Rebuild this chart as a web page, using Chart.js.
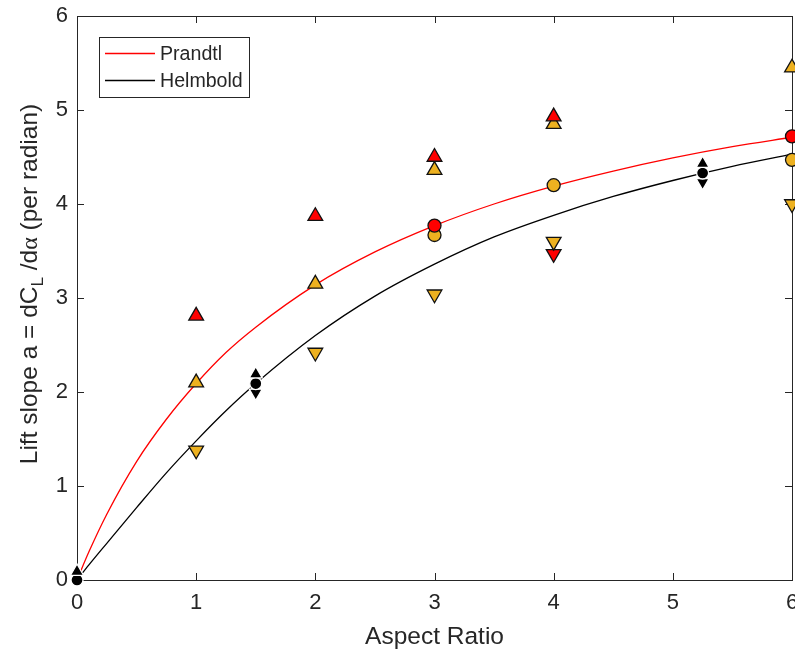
<!DOCTYPE html>
<html>
<head>
<meta charset="utf-8">
<script src="https://cdn.jsdelivr.net/npm/chart.js@4.4.0/dist/chart.umd.min.js"></script>
<style>
  html, body { margin: 0; padding: 0; background: #fff; }
</style>
</head>
<body>
<canvas id="chart" width="795" height="652"></canvas>
<script>
// curves
const curveX   = [0, 0.1, 0.25, 0.5, 0.75, 1, 1.25, 1.5, 2, 2.5, 3, 3.5, 4, 4.5, 5, 5.5, 6];
const prandtl  = [0, 0.30, 0.70, 1.26, 1.71, 2.09, 2.42, 2.69, 3.14, 3.49, 3.77, 4.00, 4.19, 4.35, 4.49, 4.61, 4.71];
const helmbold = [0, 0.16, 0.39, 0.77, 1.14, 1.48, 1.80, 2.09, 2.60, 3.02, 3.36, 3.65, 3.88, 4.08, 4.25, 4.40, 4.53];

// markers
const redUpX = [1, 2, 3, 4],            redUpY = [2.81, 3.87, 4.50, 4.93];
const redCircX = [3, 6],                 redCircY = [3.77, 4.72];
const redDownX = [4],                    redDownY = [3.47];
const orUpX = [1, 2, 3, 4, 6],           orUpY = [2.10, 3.15, 4.36, 4.85, 5.45];
const orCircX = [3, 4, 6],               orCircY = [3.67, 4.20, 4.47];
const orDownX = [1, 2, 3, 4, 6],         orDownY = [1.38, 2.42, 3.04, 3.60, 4.00];
const blkUpX = [0, 1.5, 5.25],           blkUpY = [0.09, 2.19, 4.43];
const blkCircX = [0, 1.5, 5.25],         blkCircY = [0, 2.09, 4.33];
const blkDownX = [1.5, 5.25],            blkDownY = [1.99, 4.23];

const xTicks = [0, 1, 2, 3, 4, 5, 6];
const yTicks = [0, 1, 2, 3, 4, 5, 6];

const axisColor = '#262626';
const sans = '"Liberation Sans", Arial, Helvetica, sans-serif';
const RED = '#FF0000', ORANGE = '#EDB120';

const pts = (xs, ys) => xs.map((v, i) => ({ x: v, y: ys[i] }));

function markers(label, xs, ys, fill, edge, style, rot, r, order) {
  return {
    label: label, data: pts(xs, ys), showLine: false, clip: false, order: order,
    pointStyle: style, rotation: rot, pointRadius: r, pointHoverRadius: r,
    backgroundColor: fill, borderColor: edge, pointBorderWidth: 1.3
  };
}

// inward ticks on all four sides + box
const frame = {
  id: 'frame',
  beforeDatasetsDraw(chart) {
    const { ctx, chartArea: a, scales: { x, y } } = chart;
    const len = 7;
    ctx.save();
    ctx.strokeStyle = axisColor;
    ctx.lineWidth = 1;
    ctx.strokeRect(a.left + 0.5, a.top + 0.5, a.right - a.left, a.bottom - a.top);
    ctx.beginPath();
    x.ticks.forEach(t => {
      const p = Math.round(x.getPixelForValue(t.value)) + 0.5;
      ctx.moveTo(p, a.bottom); ctx.lineTo(p, a.bottom - len);
      ctx.moveTo(p, a.top); ctx.lineTo(p, a.top + len);
    });
    y.ticks.forEach(t => {
      const p = Math.round(y.getPixelForValue(t.value)) + 0.5;
      ctx.moveTo(a.left, p); ctx.lineTo(a.left + len, p);
      ctx.moveTo(a.right, p); ctx.lineTo(a.right - len, p);
    });
    ctx.stroke();
    ctx.restore();
  }
};

// y title with subscript and greek letter
const yTitle = {
  id: 'yTitle',
  afterDraw(chart) {
    const ctx = chart.ctx;
    const main = '24.5px ' + sans, sub = '17px ' + sans, greek = '24px "Liberation Serif", "DejaVu Serif", serif';
    const parts = [
      { t: 'Lift slope a = dC', f: main, dy: 0 },
      { t: 'L', f: sub, dy: 6 },
      { t: ' /d', f: main, dy: 0 },
      { t: '\u03B1', f: greek, dy: 0 },
      { t: ' (per radian)', f: main, dy: 0 }
    ];
    ctx.save();
    let total = 0;
    parts.forEach(p => { ctx.font = p.f; p.w = ctx.measureText(p.t).width; total += p.w; });
    ctx.translate(37, 284 + total / 2);
    ctx.rotate(-Math.PI / 2);
    ctx.fillStyle = axisColor;
    ctx.textBaseline = 'alphabetic';
    ctx.textAlign = 'left';
    let cx = 0;
    parts.forEach(p => { ctx.font = p.f; ctx.fillText(p.t, cx, p.dy); cx += p.w; });
    ctx.restore();
  }
};

// boxed legend in the upper left
const legendBox = {
  id: 'legendBox',
  afterDraw(chart) {
    const { ctx, chartArea: a } = chart;
    const items = chart.data.datasets.filter(d => d.showLine);
    const x0 = a.left + 22, y0 = a.top + 21, w = 150, h = 60;
    ctx.save();
    ctx.fillStyle = '#fff';
    ctx.fillRect(x0, y0, w, h);
    ctx.strokeStyle = axisColor;
    ctx.lineWidth = 1;
    ctx.strokeRect(x0 + 0.5, y0 + 0.5, w, h);
    ctx.font = '19.6px ' + sans;
    ctx.textBaseline = 'middle';
    items.forEach((d, i) => {
      const yy = y0 + 16 + i * 27;
      ctx.strokeStyle = d.borderColor;
      ctx.lineWidth = d.borderWidth;
      ctx.beginPath(); ctx.moveTo(x0 + 6, yy + 0.5); ctx.lineTo(x0 + 56, yy + 0.5); ctx.stroke();
      ctx.fillStyle = axisColor;
      ctx.fillText(d.label, x0 + 61, yy + 1.5);
    });
    ctx.restore();
  }
};

new Chart(document.getElementById('chart'), {
  type: 'scatter',
  data: {
    datasets: [
      markers('black up', blkUpX, blkUpY, '#000', '#fff', 'triangle', 0, 7.5, 1),
      markers('black circ', blkCircX, blkCircY, '#000', '#fff', 'circle', 0, 6, 1),
      markers('black down', blkDownX, blkDownY, '#000', '#fff', 'triangle', 180, 7.5, 1),
      markers('red up', redUpX, redUpY, RED, '#111', 'triangle', 0, 8.5, 2),
      markers('red circ', redCircX, redCircY, RED, '#111', 'circle', 0, 6.5, 2),
      markers('red down', redDownX, redDownY, RED, '#111', 'triangle', 180, 8.5, 3),
      markers('orange up', orUpX, orUpY, ORANGE, '#111', 'triangle', 0, 8.5, 4),
      markers('orange circ', orCircX, orCircY, ORANGE, '#111', 'circle', 0, 6.5, 4),
      markers('orange down', orDownX, orDownY, ORANGE, '#111', 'triangle', 180, 8.5, 2),
      { label: 'Prandtl', data: pts(curveX, prandtl), showLine: true, borderColor: RED, borderWidth: 1.3,
        pointRadius: 0, cubicInterpolationMode: 'monotone', clip: false, order: 10 },
      { label: 'Helmbold', data: pts(curveX, helmbold), showLine: true, borderColor: '#000', borderWidth: 1.3,
        pointRadius: 0, cubicInterpolationMode: 'monotone', clip: false, order: 10 }
    ]
  },
  options: {
    responsive: false,
    animation: false,
    devicePixelRatio: 1,
    layout: { autoPadding: false, padding: { top: 16, right: 3, left: 0, bottom: 0 } },
    plugins: { legend: { display: false }, tooltip: { enabled: false } },
    scales: {
      x: {
        type: 'linear', min: 0, max: 6,
        afterBuildTicks: s => { s.ticks = xTicks.map(v => ({ value: v })); },
        afterFit: s => { s.height = 72; s.paddingLeft = 0; s.paddingRight = 0; },
        ticks: { color: axisColor, font: { family: sans, size: 22 }, padding: 10, maxRotation: 0 },
        grid: { display: false, drawTicks: false },
        border: { display: false },
        title: { display: true, text: 'Aspect Ratio', color: axisColor,
                 font: { family: sans, size: 24.5, lineHeight: 1.2 }, padding: { top: 0, bottom: 0 } }
      },
      y: {
        type: 'linear', min: 0, max: 6,
        afterBuildTicks: s => { s.ticks = yTicks.map(v => ({ value: v })); },
        afterFit: s => { s.width = 77; s.paddingTop = 0; s.paddingBottom = 0; },
        ticks: { color: axisColor, font: { family: sans, size: 22 }, padding: 9 },
        grid: { display: false, drawTicks: false },
        border: { display: false }
      }
    }
  },
  plugins: [frame, yTitle, legendBox]
});
</script>
</body>
</html>
